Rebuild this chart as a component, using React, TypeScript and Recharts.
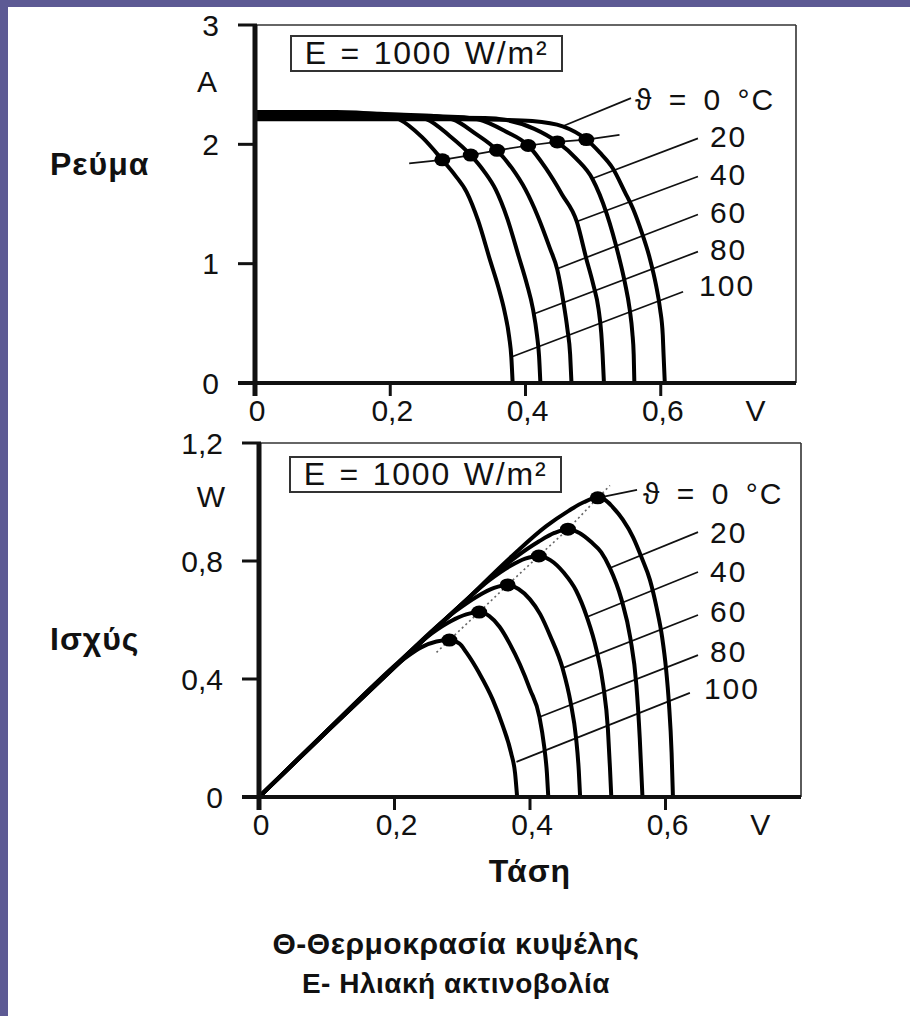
import React from 'react';
import { ComposedChart, Line, XAxis, YAxis, ReferenceLine } from 'recharts';

const FONT = '"Liberation Sans", Arial, Helvetica, sans-serif';
const INK = '#111111';
const BAND = '#5d5a94';

type P = [number, number];

// ---- tick values / texts ----
const xTicks = [0, 0.2, 0.4, 0.6, 0.74];
const xTickText = ['0', '0,2', '0,4', '0,6', 'V'];
const currentTicks = [0, 1, 2, 2.53, 3];
const currentTickText = ['0', '1', '2', 'A', '3'];
const powerTicks = [0, 0.4, 0.8, 1.02, 1.2];
const powerTickText = ['0', '0,4', '0,8', 'W', '1,2'];

const temperatureLabels = ['ϑ = 0 °C', '20', '40', '60', '80', '100'];

// ---- I-V curves (V, A) ----
const iv0: P[] = [[0, 2.21], [0.3, 2.21], [0.37, 2.205], [0.41, 2.195], [0.455, 2.15], [0.49, 2.04], [0.51, 1.93], [0.529, 1.8], [0.547, 1.6], [0.559, 1.46], [0.572, 1.26], [0.584, 1.04], [0.593, 0.82], [0.599, 0.62], [0.603, 0.4], [0.604, 0.26], [0.606, 0]];
const iv20: P[] = [[0, 2.225], [0.26, 2.225], [0.34, 2.22], [0.37, 2.205], [0.413, 2.13], [0.447, 2.02], [0.475, 1.88], [0.499, 1.71], [0.52, 1.42], [0.538, 1.06], [0.547, 0.84], [0.554, 0.62], [0.558, 0.42], [0.56, 0.24], [0.561, 0]];
const iv40: P[] = [[0, 2.24], [0.22, 2.24], [0.3, 2.23], [0.33, 2.21], [0.37, 2.11], [0.404, 1.99], [0.43, 1.8], [0.454, 1.58], [0.476, 1.35], [0.49, 1.04], [0.5, 0.83], [0.508, 0.62], [0.512, 0.42], [0.514, 0.24], [0.516, 0]];
const iv60: P[] = [[0, 2.25], [0.18, 2.25], [0.26, 2.24], [0.292, 2.21], [0.326, 2.09], [0.358, 1.95], [0.38, 1.8], [0.4, 1.62], [0.418, 1.4], [0.436, 1.13], [0.447, 0.95], [0.456, 0.68], [0.462, 0.45], [0.466, 0.24], [0.468, 0]];
const iv80: P[] = [[0, 2.26], [0.15, 2.26], [0.22, 2.245], [0.254, 2.21], [0.288, 2.07], [0.319, 1.91], [0.338, 1.78], [0.356, 1.62], [0.373, 1.38], [0.39, 1.06], [0.402, 0.83], [0.411, 0.62], [0.417, 0.4], [0.42, 0.23], [0.422, 0]];
const iv100: P[] = [[0, 2.27], [0.12, 2.27], [0.18, 2.255], [0.213, 2.21], [0.247, 2.06], [0.277, 1.87], [0.296, 1.74], [0.313, 1.6], [0.33, 1.36], [0.347, 1.04], [0.36, 0.8], [0.369, 0.6], [0.376, 0.38], [0.379, 0.22], [0.381, 0]];

const mppIV: P[] = [[0.277, 1.87], [0.319, 1.91], [0.358, 1.95], [0.404, 1.99], [0.447, 2.02], [0.49, 2.04]];
const locusIV: P[] = [[0.228, 1.84], [0.277, 1.87], [0.319, 1.91], [0.358, 1.95], [0.404, 1.99], [0.447, 2.02], [0.49, 2.04], [0.539, 2.08]];

// leader lines: [label point, curve point]
const leadersIV: [P, P][] = [
  [[0.556, 2.387], [0.455, 2.151]],
  [[0.655, 2.05], [0.499, 1.714]],
  [[0.655, 1.731], [0.476, 1.353]],
  [[0.655, 1.412], [0.447, 0.958]],
  [[0.655, 1.101], [0.413, 0.58]],
  [[0.633, 0.765], [0.379, 0.218]],
];

// ---- P-V curves (V, W) ----
const pv0: P[] = [[0, 0], [0.1, 0.221], [0.2, 0.44], [0.3, 0.655], [0.374, 0.818], [0.424, 0.918], [0.457, 0.97], [0.48, 1.0], [0.5, 1.014], [0.51, 1.008], [0.522, 0.983], [0.537, 0.94], [0.552, 0.881], [0.565, 0.81], [0.577, 0.736], [0.587, 0.64], [0.595, 0.542], [0.601, 0.43], [0.605, 0.319], [0.609, 0.15], [0.611, 0]];
const pv20: P[] = [[0, 0], [0.1, 0.222], [0.2, 0.44], [0.3, 0.655], [0.38, 0.815], [0.413, 0.866], [0.436, 0.895], [0.456, 0.908], [0.473, 0.895], [0.49, 0.865], [0.505, 0.83], [0.518, 0.776], [0.535, 0.67], [0.548, 0.54], [0.557, 0.38], [0.562, 0.2], [0.566, 0]];
const pv40: P[] = [[0, 0], [0.1, 0.222], [0.2, 0.441], [0.3, 0.655], [0.34, 0.735], [0.37, 0.782], [0.393, 0.808], [0.413, 0.817], [0.43, 0.803], [0.45, 0.76], [0.468, 0.7], [0.484, 0.61], [0.498, 0.5], [0.508, 0.38], [0.515, 0.23], [0.518, 0.1], [0.52, 0]];
const pv60: P[] = [[0, 0], [0.1, 0.223], [0.2, 0.443], [0.29, 0.63], [0.322, 0.68], [0.347, 0.709], [0.367, 0.719], [0.383, 0.705], [0.4, 0.67], [0.415, 0.62], [0.43, 0.545], [0.448, 0.437], [0.46, 0.32], [0.468, 0.2], [0.472, 0.09], [0.474, 0]];
const pv80: P[] = [[0, 0], [0.1, 0.224], [0.2, 0.445], [0.255, 0.555], [0.283, 0.596], [0.306, 0.619], [0.325, 0.627], [0.34, 0.613], [0.355, 0.577], [0.37, 0.52], [0.385, 0.45], [0.4, 0.365], [0.414, 0.271], [0.421, 0.17], [0.425, 0.08], [0.427, 0]];
const pv100: P[] = [[0, 0], [0.1, 0.224], [0.18, 0.4], [0.215, 0.47], [0.24, 0.508], [0.262, 0.527], [0.281, 0.532], [0.296, 0.52], [0.306, 0.49], [0.325, 0.42], [0.345, 0.33], [0.36, 0.24], [0.372, 0.15], [0.378, 0.08], [0.381, 0]];

const mppPV: P[] = [[0.281, 0.532], [0.325, 0.627], [0.367, 0.719], [0.413, 0.817], [0.456, 0.908], [0.5, 1.014]];
const locusPV: P[] = [[0.262, 0.49], [0.281, 0.532], [0.325, 0.627], [0.367, 0.719], [0.413, 0.817], [0.456, 0.908], [0.5, 1.014], [0.518, 1.056]];

const leadersPV: [P, P][] = [
  [[0.558, 1.041], [0.5, 1.014]],
  [[0.648, 0.898], [0.518, 0.776]],
  [[0.648, 0.763], [0.484, 0.61]],
  [[0.648, 0.617], [0.448, 0.437]],
  [[0.648, 0.481], [0.414, 0.271]],
  [[0.636, 0.353], [0.38, 0.119]],
];

const ivCurves = [iv0, iv20, iv40, iv60, iv80, iv100];
const pvCurves = [pv0, pv20, pv40, pv60, pv80, pv100];

// label offsets (style, not data)
const labelOffsetsIV = [[4, 1], [12, -2], [12, -2], [12, -2], [12, -2], [16, -6]];
const labelOffsetsPV = [[6, 4], [12, 0], [12, 0], [12, -3], [12, -4], [14, -4]];

const toPts = (arr: P[]) => arr.map(([v, y]) => ({ v, y }));

const tickFont = { fontFamily: FONT, fontSize: 30, fill: INK } as const;

function makeXTick() {
  return (props: any) => {
    const { x, y, payload } = props;
    const idx = xTicks.indexOf(payload.value);
    const label = xTickText[idx] ?? '';
    const unit = label === 'V';
    const zero = payload.value === 0;
    return (
      <g>
        {!unit && (
          <line x1={x} x2={x} y1={y - 2} y2={y + 13} stroke={INK} strokeWidth={zero ? 5 : 3} />
        )}
        <text x={x + (unit ? 0 : 2)} y={y + 27} textAnchor="middle" dominantBaseline="central" {...tickFont}>
          {label}
        </text>
      </g>
    );
  };
}

function makeYTick(ticks: number[], texts: string[], labelGap: number) {
  return (props: any) => {
    const { x, y, payload } = props;
    const idx = ticks.indexOf(payload.value);
    const label = texts[idx] ?? '';
    const unit = label === 'A' || label === 'W';
    const zero = payload.value === 0;
    return (
      <g>
        {!unit && <line x1={x - 17} x2={x + 2} y1={y} y2={y} stroke={INK} strokeWidth={zero ? 4 : 3} />}
        <text
          x={unit ? x - labelGap - 12 : x - labelGap}
          y={y}
          textAnchor={unit ? 'middle' : 'end'}
          dominantBaseline="central"
          {...tickFont}
        >
          {label}
        </text>
      </g>
    );
  };
}

function makeLeaderDot(text: string, off: number[]) {
  return (props: any) => {
    const { cx, cy, index } = props;
    if (index !== 0 || cx == null) return <g key={`d-${index}`} />;
    return (
      <text
        key={`t-${index}`}
        x={cx + off[0]}
        y={cy + off[1]}
        dominantBaseline="central"
        fontFamily={FONT}
        fontSize={30}
        fill={INK}
        letterSpacing={2}
        wordSpacing={5}
      >
        {text}
      </text>
    );
  };
}

const mppDot = (props: any) => {
  const { cx, cy, index } = props;
  if (cx == null) return <g key={`m-${index}`} />;
  return <ellipse key={`m-${index}`} cx={cx} cy={cy} rx={8} ry={6.5} fill="#000" />;
};

const AXIS_W = 40;

function Panel(props: {
  top: number;
  height: number;
  margin: { top: number; right: number; bottom: number; left: number };
  yMax: number;
  yTicks: number[];
  yTickText: string[];
  curves: P[][];
  mpp: P[];
  locus: P[];
  locusDashed: boolean;
  leaders: [P, P][];
  offsets: number[][];
  labelGap: number;
}) {
  const { top, height, margin, yMax, yTicks, yTickText, curves, mpp, locus, locusDashed, leaders, offsets, labelGap } = props;
  return (
    <div style={{ position: 'absolute', left: 0, top }}>
      <ComposedChart width={910} height={height} margin={margin}>
        <XAxis
          dataKey="v"
          type="number"
          domain={[0, 0.8]}
          ticks={xTicks}
          interval={0}
          height={AXIS_W}
          tickSize={0}
          tickMargin={0}
          tickLine={false}
          axisLine={{ stroke: INK, strokeWidth: 4 }}
          tick={makeXTick()}
          allowDataOverflow
        />
        <YAxis
          type="number"
          domain={[0, yMax]}
          ticks={yTicks}
          interval={0}
          width={AXIS_W}
          tickSize={0}
          tickMargin={0}
          tickLine={false}
          axisLine={{ stroke: INK, strokeWidth: 5 }}
          tick={makeYTick(yTicks, yTickText, labelGap)}
          allowDataOverflow
        />
        <ReferenceLine y={yMax} stroke="#333" strokeWidth={1.6} />
        <ReferenceLine x={0.8} stroke="#333" strokeWidth={1.6} />
        {leaders.map((seg, k) => (
          <Line
            key={`lead-${k}`}
            data={toPts(seg)}
            dataKey="y"
            type="linear"
            stroke={INK}
            strokeWidth={1.7}
            dot={makeLeaderDot(temperatureLabels[k], offsets[k])}
            activeDot={false}
            isAnimationActive={false}
          />
        ))}
        {curves.map((c, k) => (
          <Line
            key={`curve-${k}`}
            data={toPts(c)}
            dataKey="y"
            type="monotone"
            stroke="#000"
            strokeWidth={4}
            dot={false}
            activeDot={false}
            isAnimationActive={false}
          />
        ))}
        <Line
          data={toPts(locus)}
          dataKey="y"
          type="linear"
          stroke={locusDashed ? '#666' : INK}
          strokeWidth={locusDashed ? 1.6 : 1.7}
          strokeDasharray={locusDashed ? '2 3' : undefined}
          dot={false}
          activeDot={false}
          isAnimationActive={false}
        />
        <Line
          data={toPts(mpp)}
          dataKey="y"
          type="linear"
          stroke="none"
          strokeWidth={0}
          dot={mppDot}
          activeDot={false}
          isAnimationActive={false}
        />
      </ComposedChart>
    </div>
  );
}

const boxStyle = (left: number, top: number): React.CSSProperties => ({
  position: 'absolute',
  left,
  top,
  width: 269,
  height: 33,
  border: '2px solid #333',
  fontFamily: FONT,
  fontSize: 32,
  lineHeight: '33px',
  color: INK,
  textAlign: 'center',
  letterSpacing: 1.8,
  wordSpacing: 2,
  whiteSpace: 'nowrap',
});

const boldText: React.CSSProperties = {
  position: 'absolute',
  fontFamily: FONT,
  fontWeight: 'bold',
  fontSize: 32,
  letterSpacing: 1,
  color: INK,
  whiteSpace: 'nowrap',
};

export default function App() {
  return (
    <div style={{ position: 'absolute', left: 0, top: 0, width: 910, height: 1016, background: '#fff', overflow: 'hidden' }}>
      <div style={{ position: 'absolute', left: 0, top: 0, width: 910, height: 7, background: BAND }} />
      <div style={{ position: 'absolute', left: 0, top: 0, width: 8, height: 1016, background: BAND }} />

      <Panel
        top={0}
        height={425}
        margin={{ top: 25, right: 114, bottom: 2, left: 255 - AXIS_W }}
        yMax={3}
        yTicks={currentTicks}
        yTickText={currentTickText}
        curves={ivCurves}
        mpp={mppIV}
        locus={locusIV}
        locusDashed={false}
        leaders={leadersIV}
        offsets={labelOffsetsIV}
        labelGap={36}
      />
      <Panel
        top={425}
        height={455}
        margin={{ top: 18, right: 109, bottom: 83 - AXIS_W, left: 259 - AXIS_W }}
        yMax={1.2}
        yTicks={powerTicks}
        yTickText={powerTickText}
        curves={pvCurves}
        mpp={mppPV}
        locus={locusPV}
        locusDashed={true}
        leaders={leadersPV}
        offsets={labelOffsetsPV}
        labelGap={36}
      />

      <div style={boxStyle(290, 35)}>E = 1000 W/m²</div>
      <div style={boxStyle(289, 456)}>E = 1000 W/m²</div>

      <div style={{ ...boldText, left: 50, top: 146 }}>Ρεύμα</div>
      <div style={{ ...boldText, left: 50, top: 621 }}>Ισχύς</div>
      <div style={{ ...boldText, left: 0, width: 1060, top: 853, textAlign: 'center' }}>Τάση</div>
      <div style={{ ...boldText, fontSize: 30, letterSpacing: 0.5, left: 0, width: 912, top: 927, textAlign: 'center' }}>Θ-Θερμοκρασία κυψέλης</div>
      <div style={{ ...boldText, fontSize: 28, letterSpacing: 0.5, left: 0, width: 912, top: 968, textAlign: 'center' }}>Ε- Ηλιακή ακτινοβολία</div>
    </div>
  );
}
